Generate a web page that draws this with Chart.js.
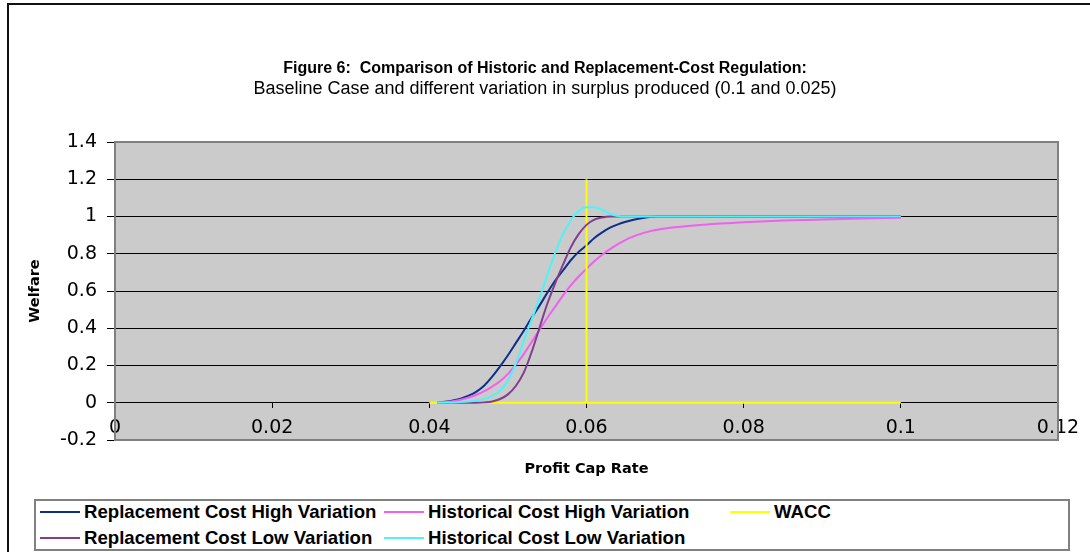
<!DOCTYPE html>
<html>
<head>
<meta charset="utf-8">
<script src="https://cdn.jsdelivr.net/npm/chart.js@4.4.0/dist/chart.umd.min.js"></script>
<style>
  html, body { margin: 0; padding: 0; background: #fff; }
  #wrap { position: relative; width: 1090px; height: 552px; overflow: hidden; }
  #frame { position: absolute; left: 7px; top: 3px; width: 1200px; height: 700px; border: 2px solid #111; }
  #chart { position: absolute; left: 0; top: 0; }
  .legend { position: absolute; left: 34px; top: 499px; width: 1036px; height: 52px; box-sizing: border-box; border: 2px solid #808080; background: #fff; }
  .legend__item { position: absolute; display: flex; align-items: center; height: 24px; font: bold 18.6px 'Liberation Sans', Arial, sans-serif; color: #000; white-space: nowrap; }
  .legend__line { width: 40px; height: 2px; margin-right: 4px; }
</style>
</head>
<body>
<div id="wrap">
  <div id="frame"></div>
  <canvas id="chart" width="1090" height="552"></canvas>
  <div class="legend" id="legend"></div>
</div>
<script>
// x values shared by the four welfare curves
const profitCapRate = [
  0.041, 0.042, 0.043, 0.044, 0.045, 0.046, 0.047, 0.048, 0.049, 0.050,
  0.051, 0.052, 0.053, 0.054, 0.055, 0.056, 0.057, 0.058, 0.059, 0.060,
  0.061, 0.062, 0.063, 0.064, 0.065, 0.066, 0.067, 0.068, 0.069, 0.070,
  0.075, 0.080, 0.085, 0.090, 0.095, 0.100
];

const replacementHigh = [
  0, 0.005, 0.012, 0.022, 0.038, 0.06, 0.093, 0.14, 0.195, 0.255,
  0.32, 0.385, 0.455, 0.52, 0.59, 0.655, 0.71, 0.765, 0.81, 0.845,
  0.885, 0.915, 0.94, 0.958, 0.972, 0.983, 0.991, 0.997, 1, 1,
  1, 1, 1, 1, 1, 1
];

const historicalHigh = [
  0, 0.003, 0.008, 0.016, 0.028, 0.043, 0.062, 0.087, 0.115, 0.155,
  0.205, 0.26, 0.325, 0.39, 0.455, 0.515, 0.575, 0.63, 0.678, 0.72,
  0.76, 0.795, 0.825, 0.852, 0.875, 0.893, 0.908, 0.92, 0.929, 0.936,
  0.956, 0.969, 0.978, 0.984, 0.989, 0.993
];

const replacementLow = [
  0, 0, 0, 0, 0, 0, 0.002, 0.007, 0.02, 0.045,
  0.09, 0.16, 0.27, 0.40, 0.53, 0.64, 0.74, 0.834, 0.905, 0.955,
  0.983, 0.995, 1, 1, 1, 1, 1, 1, 1, 1,
  1, 1, 1, 1, 1, 1
];

const historicalLow = [
  0, 0.001, 0.002, 0.004, 0.007, 0.012, 0.021, 0.037, 0.065, 0.12,
  0.21, 0.33, 0.445, 0.56, 0.685, 0.805, 0.905, 0.98, 1.03, 1.05,
  1.05, 1.035, 1.015, 1.003, 1, 1, 1, 1, 1, 1,
  1, 1, 1, 1, 1, 1
];

// WACC marker: flat at zero with a spike at 0.06
const waccRate = [0.04, 0.06, 0.06, 0.06, 0.1];
const waccLevel = [0, 0, 1.2, 0, 0];

const xTickLabels = ['0', '0.02', '0.04', '0.06', '0.08', '0.1', '0.12'];
const yTickLabels = ['-0.2', '0', '0.2', '0.4', '0.6', '0.8', '1', '1.2', '1.4'];

const toPoints = (xs, ys) => xs.map((x, i) => ({ x: x, y: ys[i] }));

// order: lower number is drawn on top (later Excel series sit on top)
const series = [
  { label: 'Replacement Cost High Variation', color: '#0b2f8c', xs: profitCapRate, ys: replacementHigh, order: 4 },
  { label: 'Historical Cost High Variation', color: '#f060f0', xs: profitCapRate, ys: historicalHigh, order: 3 },
  { label: 'WACC', color: '#ffff00', xs: waccRate, ys: waccLevel, order: 2 },
  { label: 'Replacement Cost Low Variation', color: '#823d8f', xs: profitCapRate, ys: replacementLow, order: 1 },
  { label: 'Historical Cost Low Variation', color: '#50f2f8', xs: profitCapRate, ys: historicalLow, order: 0 }
];

const plotBackground = {
  id: 'plotBackground',
  beforeDraw(chart) {
    const { ctx, chartArea: a } = chart;
    ctx.save();
    ctx.fillStyle = '#cbcbcb';
    ctx.fillRect(a.left, a.top, a.width, a.height);
    ctx.restore();
  },
  beforeDatasetsDraw(chart) {
    const { ctx, chartArea: a } = chart;
    ctx.save();
    ctx.strokeStyle = '#808080';
    ctx.lineWidth = 2;
    ctx.strokeRect(a.left, a.top, a.width, a.height);
    ctx.restore();
  }
};

const tickFont = { family: "'DejaVu Sans', Verdana, sans-serif", size: 19 };
const axisTitleFont = { family: "'DejaVu Sans', Verdana, sans-serif", size: 14.5, weight: 'bold' };

new Chart(document.getElementById('chart'), {
  type: 'line',
  data: {
    datasets: series.map(s => ({
      label: s.label,
      data: toPoints(s.xs, s.ys),
      borderColor: s.color,
      backgroundColor: s.color,
      borderWidth: 2,
      pointRadius: 0,
      cubicInterpolationMode: s.label === 'WACC' ? 'default' : 'monotone',
      tension: 0,
      fill: false,
      order: s.order,
    }))
  },
  options: {
    responsive: false,
    animation: false,
    devicePixelRatio: 1,
    // equal side padding keeps the titles centred on the page
    layout: { padding: { left: 32, right: 32, top: 0, bottom: 112 } },
    plugins: {
      legend: { display: false },
      tooltip: { enabled: false },
      title: {
        display: true,
        text: 'Figure 6:  Comparison of Historic and Replacement-Cost Regulation:',
        color: '#000',
        font: { family: "'Liberation Sans', Arial, sans-serif", size: 16, weight: 'bold' },
        padding: { top: 59, bottom: 0 },
      },
      subtitle: {
        display: true,
        text: 'Baseline Case and different variation in surplus produced (0.1 and 0.025)',
        color: '#000',
        font: { family: "'Liberation Sans', Arial, sans-serif", size: 18 },
        padding: { top: 0, bottom: 42.2 },
      },
    },
    scales: {
      x: {
        type: 'linear',
        position: { y: 0 },
        min: 0,
        max: 0.12,
        grid: { display: true, drawOnChartArea: false, drawTicks: true, tickLength: 5, tickColor: '#000' },
        border: { color: '#000', width: 1 },
        ticks: {
          stepSize: 0.02,
          autoSkip: false,
          maxRotation: 0,
          padding: 9,
          color: '#000',
          font: tickFont,
          callback: (value, index) => xTickLabels[index],
        },
        title: {
          display: true,
          text: 'Profit Cap Rate',
          color: '#000',
          font: axisTitleFont,
          padding: { top: 12, bottom: 0 },
        },
      },
      y: {
        min: -0.2,
        max: 1.4,
        afterFit: scale => { scale.width = 83; },
        grid: { color: '#000', lineWidth: 1, drawTicks: true, tickLength: 8, tickColor: '#000' },
        border: { color: '#808080', width: 1 },
        ticks: {
          stepSize: 0.2,
          padding: 10,
          color: '#000',
          font: tickFont,
          callback: (value, index) => yTickLabels[index],
        },
        title: {
          display: true,
          text: 'Welfare',
          color: '#000',
          font: axisTitleFont,
          padding: { top: -5, bottom: 0 },
        },
      },
    },
  },
  plugins: [plotBackground],
});

// legend laid out like the original: three columns, two rows
const legend = document.getElementById('legend');
const columns = [4, 348, 694];
const rows = [-1, 25];
series.forEach((s, i) => {
  const item = document.createElement('div');
  item.className = 'legend__item';
  item.style.left = columns[i % 3] + 'px';
  item.style.top = rows[Math.floor(i / 3)] + 'px';
  const line = document.createElement('span');
  line.className = 'legend__line';
  line.style.background = s.color;
  const text = document.createElement('span');
  text.textContent = s.label;
  item.append(line, text);
  legend.append(item);
});
</script>
</body>
</html>
